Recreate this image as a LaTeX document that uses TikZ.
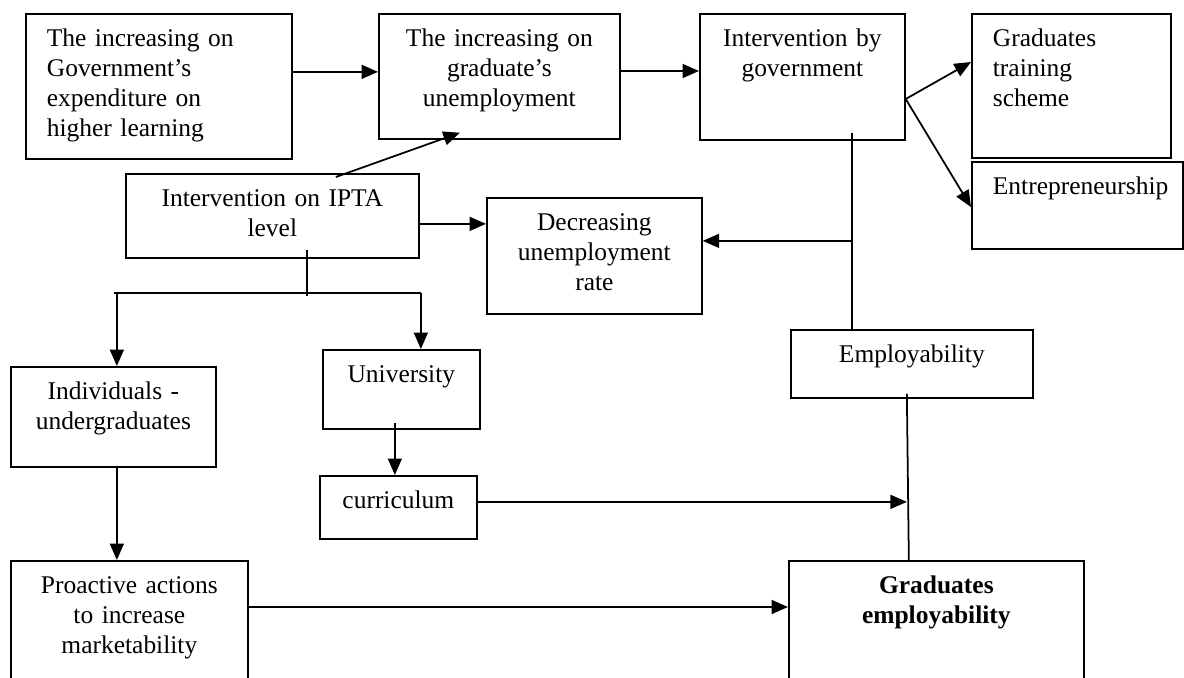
\documentclass[tikz,border=0pt]{standalone}
\usepackage{fontspec}
\setmainfont{Liberation Serif}
\usetikzlibrary{arrows.meta}

\begin{document}
\begin{tikzpicture}[
  x=0.02cm, y=-0.02cm, line width=1pt,
  box/.style={draw, anchor=north west, inner sep=0pt,
    align=center, font=\fontsize{14.5}{17}\selectfont, text height=0.66cm},
  lbox/.style={box, align=left, inner xsep=0.42cm},
  arr/.style={-{Triangle[length=0.33cm,width=0.28cm]}}
]
  \clip (0,0) rectangle (1184,677);

  % boxes
  \node[lbox, text width=4.48cm, text depth=2.24cm] (gov) at (25,13)
    {The increasing on\\Government’s\\expenditure on\\higher learning};
  \node[box, text width=4.82cm, text depth=1.84cm] (unemp) at (378,13)
    {The increasing on\\graduate’s\\unemployment};
  \node[box, text width=4.10cm, text depth=1.86cm] (govint) at (699,13)
    {Intervention by\\government};
  \node[lbox, text width=3.14cm, text depth=2.22cm] (gts) at (971,13)
    {Graduates\\training\\scheme};
  \node[lbox, text width=3.38cm, text depth=1.08cm] (entre) at (971,161)
    {Entrepreneurship};
  \node[box, text width=5.86cm, text depth=1.02cm] (ipta) at (125,173)
    {Intervention on IPTA\\level};
  \node[box, text width=4.30cm, text depth=1.66cm] (decr) at (486,197)
    {Decreasing\\unemployment\\rate};
  \node[box, text width=4.10cm, text depth=1.34cm] (indiv) at (10,366)
    {Individuals -\\undergraduates};
  \node[box, text width=3.14cm, text depth=0.92cm] (univ) at (322,349)
    {University};
  \node[box, text width=3.14cm, text depth=0.60cm] (curr) at (319,475)
    {curriculum};
  \node[box, text width=4.84cm, text depth=0.70cm] (empl) at (790,329)
    {Employability};
  \node[box, text width=4.74cm, text depth=1.94cm] (proact) at (10,560)
    {Proactive actions\\to increase\\marketability};
  \node[box, text width=5.90cm, text depth=1.94cm] (gremp) at (788,560)
    {\bfseries Graduates\\\bfseries employability};

  % top row
  \draw[arr] ([yshift=0.29cm]gov.east) -- ([yshift=0.29cm]gov.east -| unemp.west);
  \draw[arr] (unemp.east |- 0,71) -- (govint.west |- 0,71);
  \coordinate (split) at (govint.east |- 0,99);
  \draw[arr] (split) -- (gts.west |- 0,62);
  \draw[arr] (split) -- (entre.west |- 0,207);

  % government branch
  \coordinate (gv) at ([xshift=0.99cm,yshift=0.16cm]govint.south);
  \draw (gv) -- (gv |- empl.north);
  \draw[arr] ([yshift=0.3cm]decr.east -| gv) -- ([yshift=0.3cm]decr.east);

  % IPTA branch
  \draw[arr] ([xshift=1.27cm,yshift=-0.08cm]ipta.north) -- ([xshift=-0.79cm,yshift=0.14cm]unemp.south);
  \draw[arr] ([yshift=-0.16cm]ipta.east) -- ([yshift=-0.16cm]ipta.east -| decr.west);
  \coordinate (bar) at ([xshift=0.69cm]ipta.south |- 0,293);
  \draw ([xshift=0.69cm,yshift=0.18cm]ipta.south) -- ([yshift=-0.06cm]bar);
  \draw ([xshift=0.01cm]indiv.north |- bar) -- ([xshift=0.39cm]univ.north |- bar);
  \draw[arr] ([xshift=0.07cm]indiv.north |- bar) -- ([xshift=0.07cm]indiv.north);
  \draw[arr] ([xshift=0.39cm]univ.north |- bar) -- ([xshift=0.39cm]univ.north);
  \draw[arr] ([xshift=-0.13cm,yshift=0.14cm]univ.south) -- ([xshift=-0.13cm]univ.south |- curr.north);
  \draw[arr] ([xshift=0.07cm]indiv.south) -- ([xshift=0.07cm]indiv.south |- proact.north);

  % towards graduates employability
  \draw ([xshift=-0.1cm,yshift=0.1cm]empl.south) coordinate (ea) -- ([xshift=-0.55cm]gremp.north);
  \draw[arr] ([yshift=0.11cm]curr.east) -- ([yshift=0.11cm]curr.east -| ea);
  \draw[arr] ([yshift=-0.94cm]proact.north east) -- ([yshift=-0.94cm]proact.north east -| gremp.west);
\end{tikzpicture}
\end{document}
